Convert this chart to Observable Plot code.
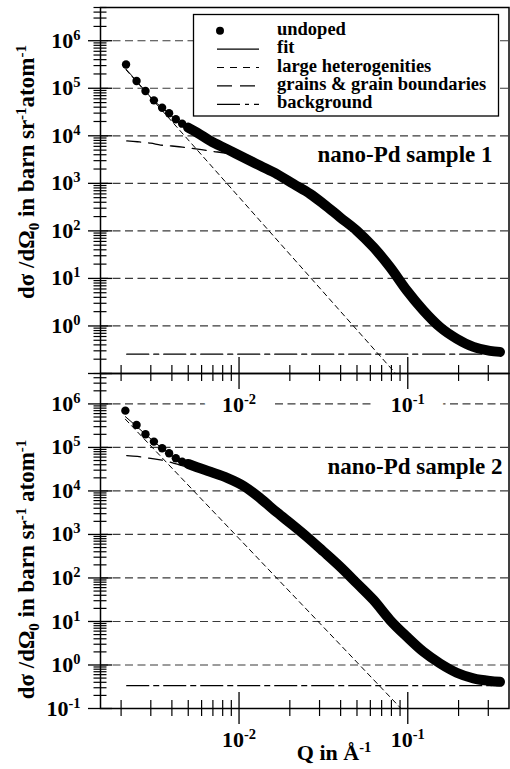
<!DOCTYPE html>
<html><head><meta charset="utf-8">
<script src="https://cdn.jsdelivr.net/npm/d3@7"></script>
<script src="https://cdn.jsdelivr.net/npm/@observablehq/plot@0.6"></script>
<style>
body{margin:0;background:#fff;}
#wrap{position:relative;width:510px;height:769px;overflow:hidden;background:#fff;}
#wrap svg{position:absolute;left:0;}
</style></head><body><div id="wrap"></div>
<script>
const FONT = '"Liberation Serif","Times New Roman",Times,serif';

// ---- axes / ticks ----
const xDomain = [0.00151, 0.398];
const yDomain = [0.1, 5e6];
const xMajorTicks = [0.01, 0.1];
const xMinorTicks = [0.002,0.003,0.004,0.005,0.006,0.007,0.008,0.009,0.02,0.03,0.04,0.05,0.06,0.07,0.08,0.09,0.2,0.3];
const yMajorTicks = [0.1, 1, 10, 100, 1e3, 1e4, 1e5, 1e6];
const yMinorTicks = d3.range(-1, 7).flatMap(k => d3.range(2, 10).map(m => +(m * 10 ** k).toPrecision(3))).filter(v => v <= 5e6);
const yLabelsTop = [1, 10, 100, 1e3, 1e4, 1e5, 1e6];
const yLabelsBottom = [0.1, 1, 10, 100, 1e3, 1e4, 1e5, 1e6];
const legendLabels = ["undoped", "fit", "large heterogenities", "grains & grain boundaries", "background"];
const sampleLabels = ["nano-Pd sample 1", "nano-Pd sample 2"];

// ---- sample 1 ----
const q1Sparse = [0.00214, 0.00247, 0.00279, 0.00313, 0.00350, 0.00385, 0.00422, 0.00460, 0.00499];
const y1Sparse = [3.17e5, 1.42e5, 8.73e4, 5.57e4, 3.90e4, 2.98e4, 2.23e4, 1.80e4, 1.49e4];
const q1Dense = [0.00499, 0.00564, 0.00676, 0.00849, 0.01064, 0.01336, 0.01678, 0.02105, 0.02642, 0.0317, 0.0397, 0.0499, 0.0626, 0.0785, 0.0986, 0.1236, 0.155, 0.195, 0.245, 0.307, 0.352];
const y1Dense = [1.49e4, 1.17e4, 7.8e3, 5.24e3, 3.49e3, 2.34e3, 1.57e3, 966, 597, 368, 193, 101, 45.3, 17.3, 5.6, 2.13, 0.95, 0.54, 0.363, 0.30, 0.285];
const q1Fit = [0.00214, 0.00247, 0.00279, 0.00313, 0.0035, 0.00385, 0.00422, 0.0046, 0.00499, 0.00564, 0.00676, 0.00849, 0.01064];
const y1Fit = [2.52e5, 1.42e5, 8.6e4, 5.5e4, 3.9e4, 2.95e4, 2.23e4, 1.8e4, 1.49e4, 1.17e4, 7.8e3, 5.24e3, 3.49e3];
const q1Porod = [0.00214, 0.0847];
const y1Porod = [2.44e5, 0.1];
const q1Grain = [0.00216, 0.0025, 0.003, 0.00343, 0.004, 0.00462, 0.00515, 0.006, 0.007, 0.00849, 0.01064, 0.01336, 0.01678, 0.021, 0.0264, 0.0317, 0.0397, 0.0499, 0.0626, 0.0785, 0.0986];
const y1Grain = [7.8e3, 7.5e3, 7.0e3, 6.4e3, 6.1e3, 5.8e3, 5.5e3, 5.1e3, 4.7e3, 4.25e3, 3.3e3, 2.2e3, 1.5e3, 940, 586, 363, 192, 100, 45, 17, 5.3];
const q1Bg = [0.00216, 0.352];
const y1Bg = [0.255, 0.255];

// ---- sample 2 ----
const q2Sparse = [0.00212, 0.00247, 0.00279, 0.00313, 0.0035, 0.00385, 0.00422, 0.0046, 0.00499];
const y2Sparse = [7.0e5, 3.29e5, 2.01e5, 1.36e5, 9.6e4, 7.36e4, 5.65e4, 4.72e4, 4.18e4];
const q2Dense = [0.00499, 0.00564, 0.00676, 0.00849, 0.01064, 0.01336, 0.01678, 0.021, 0.0252, 0.0317, 0.0397, 0.0499, 0.0626, 0.0785, 0.0986, 0.1236, 0.155, 0.195, 0.245, 0.307, 0.352];
const y2Dense = [4.18e4, 3.51e4, 2.75e4, 2.0e4, 1.3e4, 6.8e3, 3.2e3, 1.6e3, 889, 403, 182, 75.5, 31.2, 10.8, 4.48, 2.02, 1.09, 0.665, 0.494, 0.43, 0.41];
const q2Fit = [0.00212, 0.00247, 0.00279, 0.00313, 0.0035, 0.00385, 0.00422, 0.0046, 0.00499, 0.00564, 0.00676, 0.00849];
const y2Fit = [5.1e5, 3.05e5, 2.0e5, 1.36e5, 9.6e4, 7.36e4, 5.7e4, 4.7e4, 4.18e4, 3.51e4, 2.75e4, 2.0e4];
const q2Porod = [0.00212, 0.0912];
const y2Porod = [4.45e5, 0.1];
const q2Grain = [0.00216, 0.0025, 0.003, 0.0035, 0.004, 0.0046, 0.0053, 0.006, 0.007, 0.00849, 0.01064, 0.01336, 0.01678, 0.021, 0.0252, 0.0317, 0.0397, 0.0499, 0.0626, 0.0785];
const y2Grain = [6.5e4, 6.2e4, 5.6e4, 5.1e4, 4.5e4, 3.8e4, 3.3e4, 2.9e4, 2.45e4, 1.85e4, 1.25e4, 6.6e3, 3.15e3, 1.58e3, 880, 400, 180, 75, 31, 10.5];
const q2Bg = [0.00216, 0.352];
const y2Bg = [0.334, 0.334];

const zip = (q, y) => q.map((d, i) => ({q: d, y: y[i]}));
const fmt = d => "10^" + Math.round(Math.log10(d));
const SVGNS = "http://www.w3.org/2000/svg";

function supify(svg) {
  d3.select(svg).selectAll("text").each(function () {
    const m = /^10\^(.+)$/.exec(this.textContent);
    if (!m) return;
    this.textContent = "10";
    const ts = document.createElementNS(SVGNS, "tspan");
    ts.setAttribute("dy", "-8");
    ts.setAttribute("font-size", "14.5px");
    ts.textContent = m[1];
    this.appendChild(ts);
  });
}

function panel(d, opt) {
  const lbl = {fontSize: 22, fontWeight: "bold", fontFamily: FONT};
  const marks = [];
  if (opt.halo) {
    // white knock-out behind the x tick labels (drawn first, under everything)
    marks.push(Plot.axisX(xMajorTicks, {anchor: "bottom", tickSize: 0, tickPadding: 23, tickFormat: fmt, label: null,
      fill: "white", textStroke: "white", textStrokeWidth: 38, ...lbl}));
  }
  marks.push(
    Plot.gridY(yMajorTicks, {stroke: "#3a3a3a", strokeOpacity: 1, strokeWidth: 1.2, strokeDasharray: "8,4.5"}),
    Plot.line(zip(d.bgQ, d.bgY), {x: "q", y: "y", stroke: "black", strokeWidth: 1.3, strokeDasharray: "22,5,5,5"}),
    Plot.line(zip(d.porQ, d.porY), {x: "q", y: "y", stroke: "black", strokeWidth: 1, strokeDasharray: "5,4"}),
    Plot.line(zip(d.grQ, d.grY), {x: "q", y: "y", stroke: "black", strokeWidth: 1.3, strokeDasharray: "14,8", curve: "monotone-x"}),
    Plot.line(zip(d.fitQ, d.fitY), {x: "q", y: "y", stroke: "black", strokeWidth: 1, curve: "monotone-x"}),
    Plot.line(zip(d.denseQ, d.denseY), {x: "q", y: "y", stroke: "black", strokeWidth: 10, strokeLinecap: "round", strokeLinejoin: "round", curve: "monotone-x"}),
    Plot.dot(zip(d.sparseQ, d.sparseY), {x: "q", y: "y", r: 4.2, fill: "black", stroke: "none"}),
    Plot.frame({stroke: "black", strokeWidth: 1.5}),
    Plot.axisX(xMinorTicks, {anchor: "bottom", tickSize: 16, dy: -8, fill: "none", label: null, strokeWidth: 1.2}),
    Plot.axisX(xMajorTicks, {anchor: "bottom", tickSize: 32, dy: -16, fill: "none", label: null, strokeWidth: 1.3}),
    Plot.axisY(yMinorTicks, {anchor: "left", tickSize: 13, dx: 6.5, fill: "none", label: null, strokeWidth: 1.2}),
    Plot.axisY(yMajorTicks, {anchor: "left", tickSize: 24, dx: 12, fill: "none", label: null, strokeWidth: 1.3}),
    Plot.axisY(opt.yLabels, {anchor: "left", tickSize: 0, tickPadding: 20, tickFormat: fmt, label: null, ...lbl}),
    Plot.axisX(xMajorTicks, {anchor: "bottom", tickSize: 0, tickPadding: 23, tickFormat: fmt, label: null, fill: "black", ...lbl}),
    Plot.text([opt.sample], {frameAnchor: "top-right", dx: opt.sdx, dy: opt.sdy, textAnchor: "end", lineAnchor: "middle", fontSize: 23, fontWeight: "bold", fontFamily: FONT, fill: "black"})
  );
  const svg = Plot.plot({
    width: 510, height: opt.height,
    marginLeft: 100, marginRight: 1.5, marginTop: opt.mt, marginBottom: opt.mb,
    style: {background: "transparent", fontFamily: FONT, overflow: "visible", color: "black"},
    x: {type: "log", domain: xDomain, axis: null, label: null},
    y: {type: "log", domain: yDomain, axis: null, label: null},
    marks
  });
  supify(svg);
  svg.style.top = opt.top + "px";
  return svg;
}

function yLabel(svg, cx, cy, spaced) {
  const t = d3.select(svg).append("text")
    .attr("transform", `translate(${cx},${cy}) rotate(-90)`)
    .attr("text-anchor", "middle").attr("font-family", FONT).attr("font-weight", "bold")
    .attr("font-size", 23).attr("fill", "black");
  t.append("tspan").text("dσ /dΩ");
  t.append("tspan").attr("dy", 5).attr("font-size", "15px").text("0");
  t.append("tspan").attr("dy", -5).text(" in barn sr");
  t.append("tspan").attr("dy", -8.5).attr("font-size", "15px").text("-1");
  t.append("tspan").attr("dy", 8.5).text(spaced ? " atom" : "atom");
  t.append("tspan").attr("dy", -8.5).attr("font-size", "15px").text("-1");
}

function legend(svg) {
  const g = d3.select(svg).append("g");
  g.append("rect").attr("x", 193.5).attr("y", 14.5).attr("width", 305).attr("height", 101.5)
    .attr("fill", "white").attr("stroke", "black").attr("stroke-width", 1.3);
  const dashes = [null, null, "7,6", "15,8", "23,5,4,5"];
  legendLabels.forEach((s, i) => {
    const cy = 30.7 + i * 18.4;
    if (i === 0) {
      g.append("circle").attr("cx", 220).attr("cy", cy).attr("r", 4).attr("fill", "black");
    } else {
      g.append("line").attr("x1", 217).attr("x2", 259).attr("y1", cy).attr("y2", cy)
        .attr("stroke", "black").attr("stroke-width", 1.2).attr("stroke-dasharray", dashes[i]);
    }
    g.append("text").attr("x", 277).attr("y", cy + 4).attr("text-anchor", "start").attr("font-family", FONT).attr("font-weight", "bold")
      .attr("font-size", "18.5px").attr("fill", "black").text(s);
  });
}

const wrap = document.getElementById("wrap");

const bottomSvg = panel({sparseQ: q2Sparse, sparseY: y2Sparse, denseQ: q2Dense, denseY: y2Dense, fitQ: q2Fit, fitY: y2Fit,
  porQ: q2Porod, porY: y2Porod, grQ: q2Grain, grY: y2Grain, bgQ: q2Bg, bgY: y2Bg},
  {height: 409, mt: 13, mb: 61, top: 360, yLabels: yLabelsBottom, sample: sampleLabels[1], sdx: -6.5, sdy: 93, halo: false});
yLabel(bottomSvg, 34, 209.5, true);
d3.select(bottomSvg).append("text").attr("x", 334).attr("y", 400).attr("text-anchor", "middle")
  .attr("font-family", FONT).attr("font-weight", "bold").attr("font-size", 22).attr("fill", "black")
  .call(t => { t.append("tspan").text("Q in Å"); t.append("tspan").attr("dy", -8).attr("font-size", "14.5px").text("-1"); });
wrap.appendChild(bottomSvg);

const topSvg = panel({sparseQ: q1Sparse, sparseY: y1Sparse, denseQ: q1Dense, denseY: y1Dense, fitQ: q1Fit, fitY: y1Fit,
  porQ: q1Porod, porY: y1Porod, grQ: q1Grain, grY: y1Grain, bgQ: q1Bg, bgY: y1Bg},
  {height: 418, mt: 7, mb: 45, top: 0, yLabels: yLabelsTop, sample: sampleLabels[0], sdx: -16.5, sdy: 147.5, halo: true});
yLabel(topSvg, 34, 172, false);
legend(topSvg);
wrap.appendChild(topSvg);
</script></body></html>
